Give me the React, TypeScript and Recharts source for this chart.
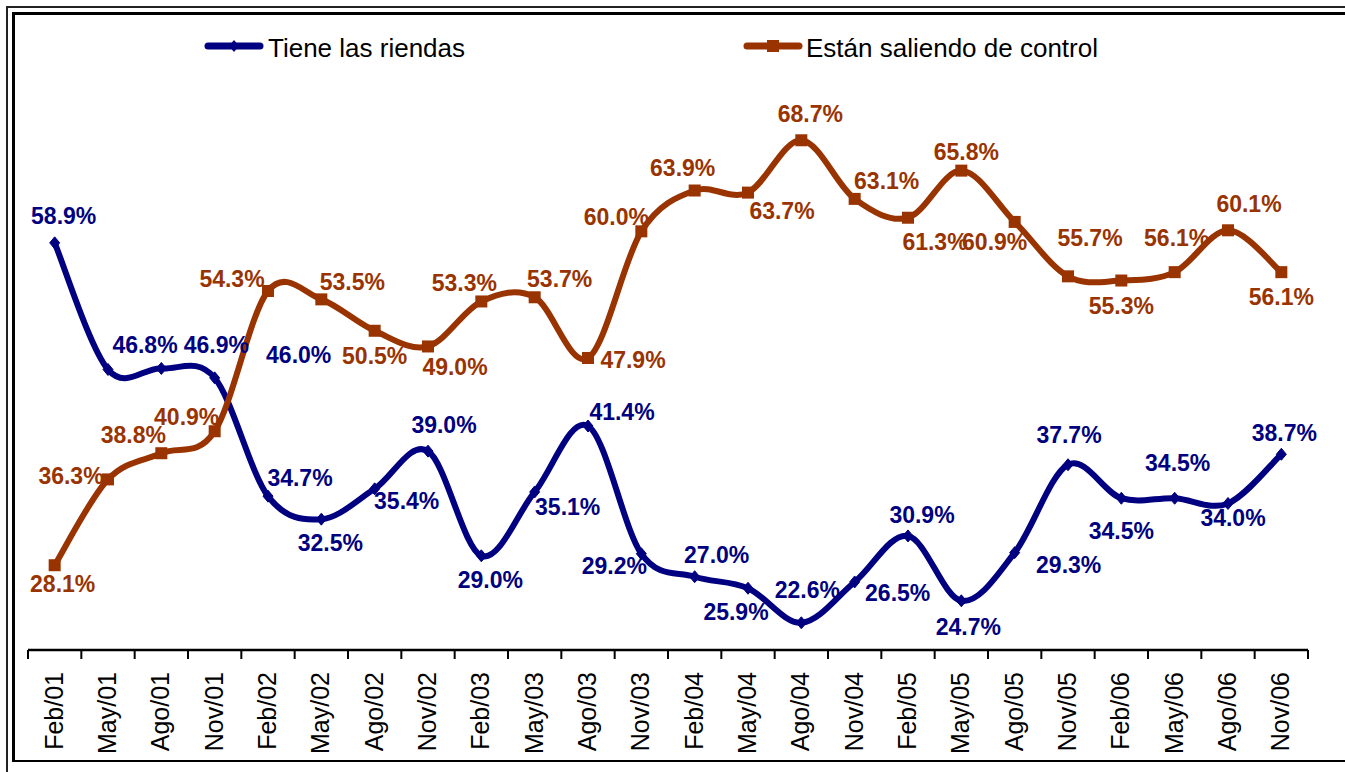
import React from 'react';
import { LineChart, Line, XAxis, YAxis, Legend, LabelList } from 'recharts';

const categories = ['Feb/01', 'May/01', 'Ago/01', 'Nov/01', 'Feb/02', 'May/02', 'Ago/02', 'Nov/02', 'Feb/03', 'May/03', 'Ago/03', 'Nov/03', 'Feb/04', 'May/04', 'Ago/04', 'Nov/04', 'Feb/05', 'May/05', 'Ago/05', 'Nov/05', 'Feb/06', 'May/06', 'Ago/06', 'Nov/06'];
const tieneRiendas = [58.9, 46.8, 46.9, 46.0, 34.7, 32.5, 35.4, 39.0, 29.0, 35.1, 41.4, 29.2, 27.0, 25.9, 22.6, 26.5, 30.9, 24.7, 29.3, 37.7, 34.5, 34.5, 34.0, 38.7];
const saliendoControl = [28.1, 36.3, 38.8, 40.9, 54.3, 53.5, 50.5, 49.0, 53.3, 53.7, 47.9, 60.0, 63.9, 63.7, 68.7, 63.1, 61.3, 65.8, 60.9, 55.7, 55.3, 56.1, 60.1, 56.1];

// label placement relative to each point (dx, dy)
const blueLabelOffsets = [[9, -27], [37, -25], [55, -24], [84, -23], [32, -18], [9, 24], [32, 12], [16, -26], [9, 24], [33, 15], [34, -14], [-27, 12], [22, -22], [-12, 23], [6, -33], [43, 11], [14, -21], [7, 26], [54, 12], [1, -30], [0, 32], [3, -36], [5, 14], [3, -22]];
const orangeLabelOffsets = [[8, 18], [-37, -4], [-28, -19], [-28, -15], [-36, -12], [31, -18], [0, 25], [27, 20], [-17, -19], [25, -19], [45, 2], [-25, -15], [-12, -23], [34, 18], [9, -27], [32, -18], [27, 24], [5, -19], [-20, 20], [22, -39], [0, 25], [2, -34], [21, -27], [0, 25]];

const BLUE = '#000080';
const ORANGE = '#993300';
const FONT = '"Liberation Sans", Arial, sans-serif';

const W = 1345;
const H = 772;
const PLOT_LEFT = 28;
const PLOT_RIGHT = 1308;
const BAND = (PLOT_RIGHT - PLOT_LEFT) / categories.length;

const data = categories.map((c, i) => ({ cat: c, riendas: tieneRiendas[i], control: saliendoControl[i] }));

// Excel-like smoothing (Catmull-Rom style Bezier)
const excelCurve = (context: any) => {
  let pts: number[][] = [];
  return {
    areaStart() {},
    areaEnd() {},
    lineStart() { pts = []; },
    point(x: number, y: number) { pts.push([+x, +y]); },
    lineEnd() {
      if (!pts.length) return;
      context.moveTo(pts[0][0], pts[0][1]);
      for (let i = 0; i < pts.length - 1; i++) {
        const p0 = pts[i - 1] || pts[i];
        const p1 = pts[i];
        const p2 = pts[i + 1];
        const p3 = pts[i + 2] || p2;
        const c1x = p1[0] + (p2[0] - p0[0]) / 6;
        const c1y = p1[1] + (p2[1] - p0[1]) / 6;
        const c2x = p2[0] - (p3[0] - p1[0]) / 6;
        const c2y = p2[1] - (p3[1] - p1[1]) / 6;
        context.bezierCurveTo(c1x, c1y, c2x, c2y, p2[0], p2[1]);
      }
    },
  };
};

const DiamondDot = (props: any) => {
  const { cx, cy } = props;
  if (cx == null || cy == null) return null;
  return <polygon points={`${cx},${cy - 6} ${cx + 5},${cy} ${cx},${cy + 6} ${cx - 5},${cy}`} fill={BLUE} stroke={BLUE} strokeWidth={1} />;
};

const SquareDot = (props: any) => {
  const { cx, cy } = props;
  if (cx == null || cy == null) return null;
  return <rect x={cx - 6} y={cy - 6} width={12} height={12} fill={ORANGE} />;
};

const makeLabel = (offsets: number[][], color: string) => (props: any) => {
  const { x, y, value, index } = props;
  const off = offsets[index] || [0, -20];
  return (
    <text x={x + off[0]} y={y + off[1]} dy="0.36em" textAnchor="middle" fill={color} fontFamily={FONT} fontWeight="bold" fontSize={23}>
      {Number(value).toFixed(1)}%
    </text>
  );
};

const CategoryTick = (props: any) => {
  const { x, y, payload, index } = props;
  const isLast = index === categories.length - 1;
  return (
    <g>
      <line x1={x - BAND / 2} x2={x - BAND / 2} y1={y} y2={y + 9} stroke="#000" strokeWidth={2} />
      {isLast && <line x1={x + BAND / 2} x2={x + BAND / 2} y1={y} y2={y + 9} stroke="#000" strokeWidth={2} />}
      <text transform={`translate(${x + 8},${y + 22}) rotate(-90)`} textAnchor="end" fontFamily={FONT} fontSize={25} fill="#000">
        {payload.value}
      </text>
    </g>
  );
};

const LegendContent = () => (
  <svg width={W} height={80}>
    <line x1={208} x2={260} y1={46} y2={46} stroke={BLUE} strokeWidth={7} strokeLinecap="round" />
    <polygon points="234,40 239,46 234,52 229,46" fill={BLUE} />
    <text x={268} y={57} fontFamily={FONT} fontSize={26} fill="#000">Tiene las riendas</text>
    <line x1={747} x2={799} y1={46} y2={46} stroke={ORANGE} strokeWidth={7} strokeLinecap="round" />
    <rect x={767} y={40} width={12} height={12} fill={ORANGE} />
    <text x={806} y={57} fontFamily={FONT} fontSize={26} fill="#000">Están saliendo de control</text>
  </svg>
);

export default function App() {
  return (
    <div style={{ position: 'absolute', left: 0, top: 0, width: W, height: H, background: '#fff', overflow: 'hidden' }}>
      <div style={{ position: 'absolute', left: 6, top: 6, width: W + 40, height: H + 40, borderLeft: '2px solid #222', borderTop: '2px solid #222' }} />
      <div style={{ position: 'absolute', left: 12, top: 12, width: W + 40, height: 757 - 12, borderLeft: '3px solid #000', borderTop: '3px solid #000', borderBottom: '2px solid #000' }} />
      <div style={{ position: 'absolute', left: 0, top: 0 }}>
        <LineChart width={W} height={H} data={data} margin={{ top: 22, right: W - PLOT_RIGHT, left: PLOT_LEFT, bottom: 12 }}>
          <XAxis dataKey="cat" height={110} padding={{ left: BAND / 2, right: BAND / 2 }} axisLine={{ stroke: '#000', strokeWidth: 2.5 }} tickLine={false} tickSize={0} tickMargin={0} interval={0} tick={<CategoryTick />} />
          <YAxis hide domain={[20, 80]} />
          <Legend layout="horizontal" verticalAlign="middle" align="center" wrapperStyle={{ position: 'absolute', left: 0, top: 0, width: W, height: 80 }} content={<LegendContent />} />
          <Line name="Tiene las riendas" dataKey="riendas" type={excelCurve as any} stroke={BLUE} strokeWidth={6} dot={<DiamondDot />} activeDot={false} isAnimationActive={false}>
            <LabelList dataKey="riendas" content={makeLabel(blueLabelOffsets, BLUE)} />
          </Line>
          <Line name="Están saliendo de control" dataKey="control" type={excelCurve as any} stroke={ORANGE} strokeWidth={6} dot={<SquareDot />} activeDot={false} isAnimationActive={false}>
            <LabelList dataKey="control" content={makeLabel(orangeLabelOffsets, ORANGE)} />
          </Line>
        </LineChart>
      </div>
    </div>
  );
}
